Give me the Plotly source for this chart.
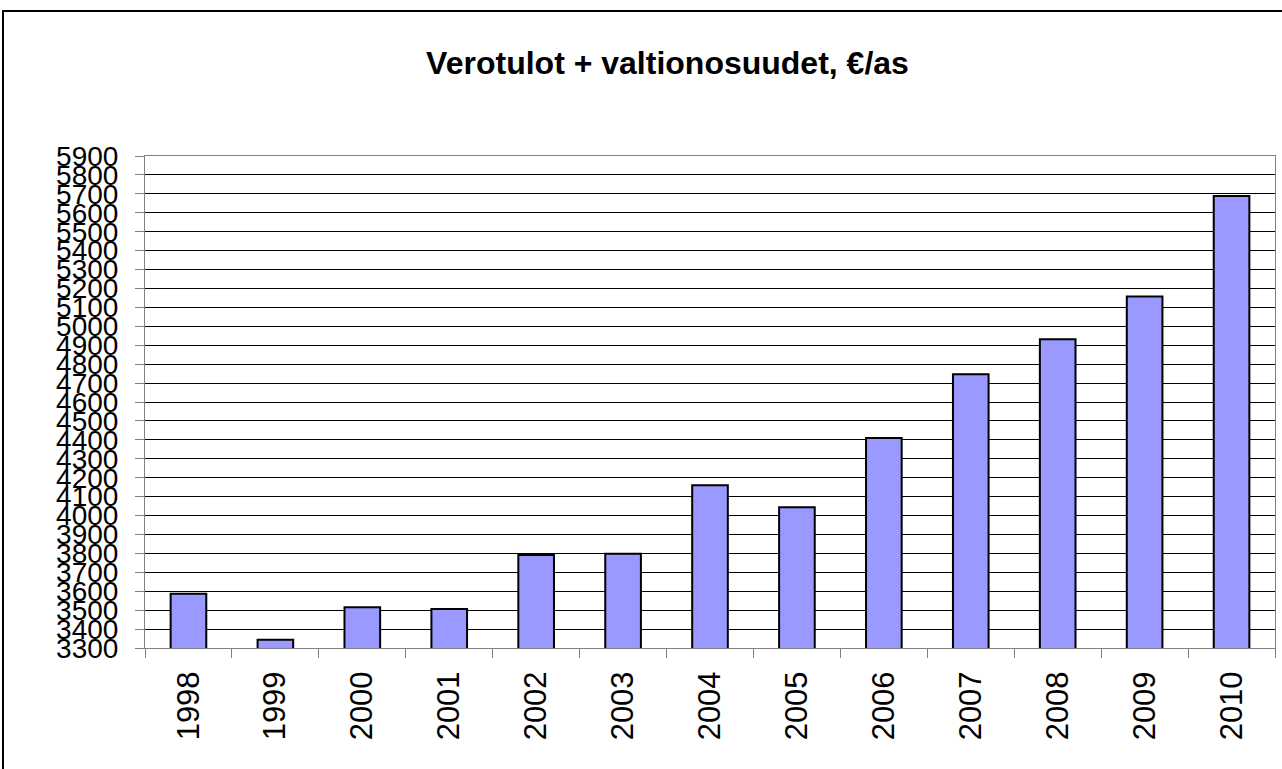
import plotly.graph_objects as go

years = ["1998", "1999", "2000", "2001", "2002", "2003", "2004",
         "2005", "2006", "2007", "2008", "2009", "2010"]
values = [3587, 3344, 3516, 3506, 3791, 3798, 4160, 4044, 4410, 4746, 4931, 5157, 5688]
y_ticks = list(range(3300, 6000, 100))
title_text = "Verotulot + valtionosuudet, €/as"

W, H = 1282, 769
L, R, T, B = 145, 1275, 156, 648

fig = go.Figure()
fig.add_trace(go.Bar(
    x=years, y=values,
    marker=dict(color="#9999FF", line=dict(color="black", width=2)),
    width=0.41,
))

def px_to_paper_x(px):
    return (px - L) / (R - L)

def px_to_paper_y(py):
    return (B - py) / (B - T)

fig.add_shape(type="rect", xref="paper", yref="paper",
              x0=px_to_paper_x(3), x1=px_to_paper_x(1300),
              y0=px_to_paper_y(790), y1=px_to_paper_y(11),
              line=dict(color="black", width=2), fillcolor="rgba(0,0,0,0)",
              layer="below")

fig.update_layout(
    width=W, height=H,
    margin=dict(l=L, r=W - R, t=T, b=H - B, pad=0),
    paper_bgcolor="white", plot_bgcolor="white",
    showlegend=False,
    title=dict(text="<b>" + title_text + "</b>", x=(427 + 908) / 2 / W, xanchor="center",
               y=1 - 63 / H, yanchor="middle", yref="container",
               font=dict(family="Liberation Sans, Arial", size=32, color="black")),
    font=dict(family="Liberation Sans, Arial", color="black"),
)
fig.update_xaxes(
    type="category", tickangle=-90, tickfont=dict(size=31, color="black"),
    ticks="outside", ticklen=9, tickcolor="#808080", tickson="boundaries",
    showline=True, linecolor="#808080", linewidth=1, mirror=True,
    showgrid=False, ticklabelstandoff=10,
)
fig.update_yaxes(
    range=[3300, 5900], tickvals=y_ticks, ticktext=[str(v) for v in y_ticks],
    tickfont=dict(size=28, color="black"),
    ticks="outside", ticklen=9, tickcolor="#808080",
    showline=True, linecolor="#808080", linewidth=1, mirror=True,
    showgrid=True, gridcolor="black", gridwidth=1, zeroline=False,
    ticklabelstandoff=11,
)

fig.write_html("out.html",
               config={"displayModeBar": False},
               post_script="document.body.style.margin='0';document.body.style.overflow='hidden';")
